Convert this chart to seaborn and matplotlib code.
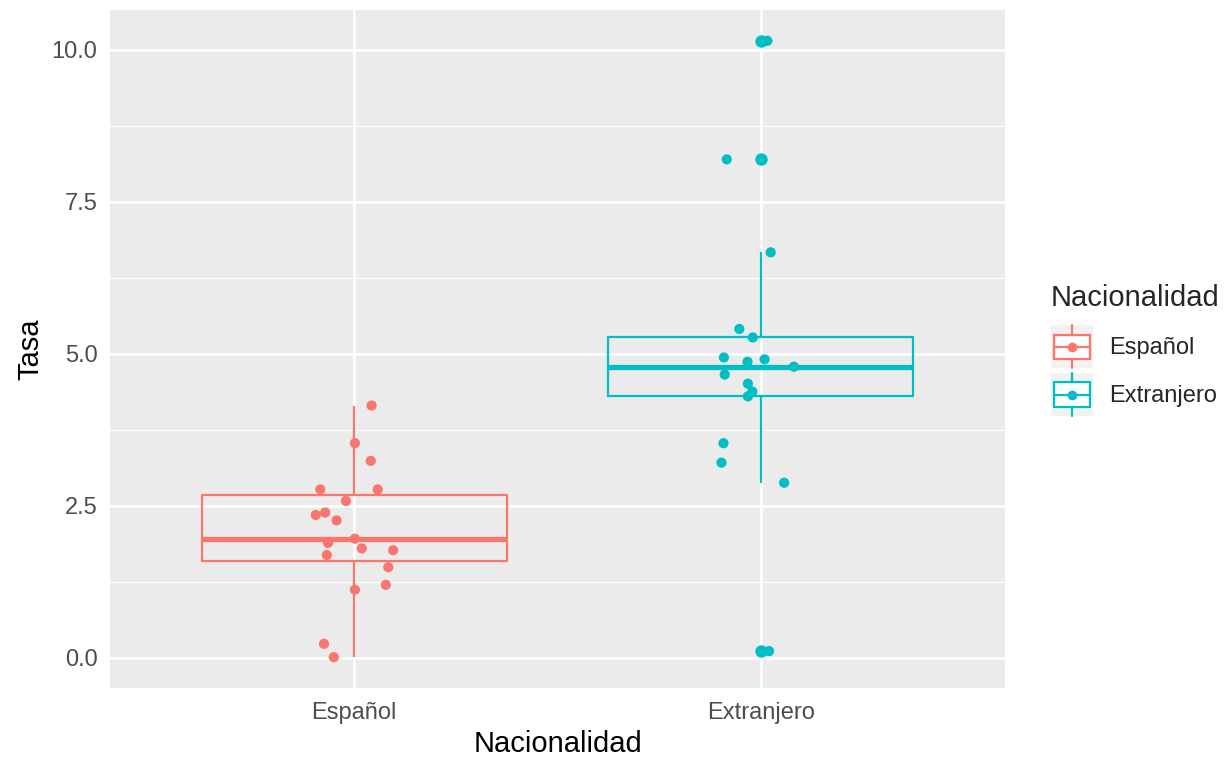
import numpy as np
import pandas as pd
import matplotlib
matplotlib.use('Agg')
import matplotlib.pyplot as plt
import seaborn as sns
from matplotlib.lines import Line2D
from matplotlib.patches import Rectangle
from matplotlib.legend_handler import HandlerBase

# values
categorias = ['Español', 'Extranjero']
colores = ['#F8766D', '#00BFC4']
espanol_tasa = [4.15, 3.53, 3.24, 2.77, 2.77, 2.58, 2.39, 2.35, 2.26, 1.96,
                1.89, 1.80, 1.77, 1.69, 1.49, 1.20, 1.12, 0.23, 0.01]
espanol_jitter = [0.043, 0.002, 0.041, -0.083, 0.058, -0.020, -0.071, -0.094, -0.043, 0.002,
                  -0.064, 0.019, 0.096, -0.067, 0.084, 0.078, 0.002, -0.074, -0.050]
extranjero_tasa = [10.15, 8.20, 6.67, 5.41, 5.27, 4.94, 4.91, 4.87, 4.79, 4.66,
                   4.51, 4.38, 4.30, 3.53, 3.21, 2.88, 0.11]
extranjero_jitter = [0.016, -0.084, 0.024, -0.053, -0.020, -0.091, 0.009, -0.033, 0.081, -0.089,
                     -0.032, -0.021, -0.032, -0.092, -0.097, 0.057, 0.020]
y_ticks = [0, 2.5, 5, 7.5, 10]
y_labels = ['0.0', '2.5', '5.0', '7.5', '10.0']

df = pd.DataFrame({
    'Nacionalidad': ['Español'] * len(espanol_tasa) + ['Extranjero'] * len(extranjero_tasa),
    'Tasa': espanol_tasa + extranjero_tasa,
    'jitter': espanol_jitter + extranjero_jitter,
})
df['x'] = df['Nacionalidad'].map({c: i for i, c in enumerate(categorias)}) + df['jitter']
palette = dict(zip(categorias, colores))

sns.set_theme(style='darkgrid', rc={
    'axes.facecolor': '#EBEBEB',
    'grid.color': 'white',
    'axes.edgecolor': '#EBEBEB',
})
plt.rcParams['font.family'] = ['Liberation Sans', 'DejaVu Sans']

fig = plt.figure(figsize=(12.27, 7.57), dpi=100)
ax = fig.add_axes([110 / 1227, 1 - 688 / 757, 895 / 1227, 678 / 757])

sns.boxplot(data=df, x='Nacionalidad', y='Tasa', hue='Nacionalidad', order=categorias,
            palette=palette, fill=False, width=0.75, linewidth=1.6, showcaps=False,
            showfliers=False, medianprops={'linewidth': 3.8}, legend=False, ax=ax, zorder=2)
for p in ax.patches:
    p.set_facecolor('white')

# outliers (1.5 IQR rule, like geom_boxplot)
for i, cat in enumerate(categorias):
    vals = df.loc[df['Nacionalidad'] == cat, 'Tasa'].to_numpy()
    q1, q3 = np.percentile(vals, [25, 75])
    iqr = q3 - q1
    out = vals[(vals < q1 - 1.5 * iqr) | (vals > q3 + 1.5 * iqr)]
    ax.scatter(np.full(len(out), i), out, s=80, color=colores[i], linewidths=0, zorder=3)

sns.scatterplot(data=df, x='x', y='Tasa', hue='Nacionalidad', palette=palette, s=54,
                linewidth=0, legend=False, ax=ax, zorder=4)

ax.set_xlim(-0.6, 1.6)
ax.set_ylim(-0.497, 10.657)
ax.set_yticks(y_ticks, labels=y_labels)
ax.set_yticks([1.25, 3.75, 6.25, 8.75], minor=True)
ax.grid(which='major', color='white', linewidth=1.8)
ax.grid(which='minor', axis='y', color='white', linewidth=0.9)
ax.set_axisbelow(True)
ax.tick_params(axis='both', which='major', length=3.6, width=1.1, color='#333333',
               labelsize=17, labelcolor='#4D4D4D')
ax.tick_params(axis='x', which='major', pad=6.8)
ax.tick_params(axis='y', which='major', pad=5.4)
ax.tick_params(axis='both', which='minor', length=0)
ax.set_xlabel('Nacionalidad', fontsize=21, color='black', labelpad=4)
ax.set_ylabel('Tasa', fontsize=21, color='black', labelpad=5)
for s in ax.spines.values():
    s.set_visible(False)


class BoxKey(HandlerBase):
    def create_artists(self, legend, orig_handle, xdescent, ydescent, width, height,
                       fontsize, trans):
        c = orig_handle.get_color()
        x0, y0 = -xdescent, -ydescent
        bg = Rectangle((x0, y0), width, height, facecolor='#F2F2F2', edgecolor='none',
                       transform=trans)
        box = Rectangle((x0 + width * 0.08, y0 + height * 0.22), width * 0.84, height * 0.56,
                        facecolor='white', edgecolor=c, linewidth=1.6, transform=trans)
        wt = Line2D([x0 + width / 2] * 2, [y0 + height * 0.78, y0 + height], color=c,
                    linewidth=1.6, transform=trans)
        wb = Line2D([x0 + width / 2] * 2, [y0, y0 + height * 0.22], color=c,
                    linewidth=1.6, transform=trans)
        med = Line2D([x0 + width * 0.08, x0 + width * 0.92], [y0 + height / 2] * 2, color=c,
                     linewidth=1.6, transform=trans)
        dot = Line2D([x0 + width / 2], [y0 + height / 2], marker='o', markersize=7,
                     markeredgewidth=0, color=c, transform=trans)
        return [bg, box, wt, wb, med, dot]


handles = [Line2D([], [], color=c) for c in colores]
leg = fig.legend(handles, categorias, title='Nacionalidad', loc='upper left',
                 bbox_to_anchor=(1051 / 1227, 1 - 284 / 757), frameon=False,
                 fontsize=17, title_fontsize=21, handlelength=1.78, handleheight=2.43,
                 handletextpad=0.7, labelspacing=0.2, borderpad=0, borderaxespad=0,
                 alignment='left', handler_map={Line2D: BoxKey()})
leg._legend_box.sep = 9.5

fig.savefig('out.png', dpi=100)
